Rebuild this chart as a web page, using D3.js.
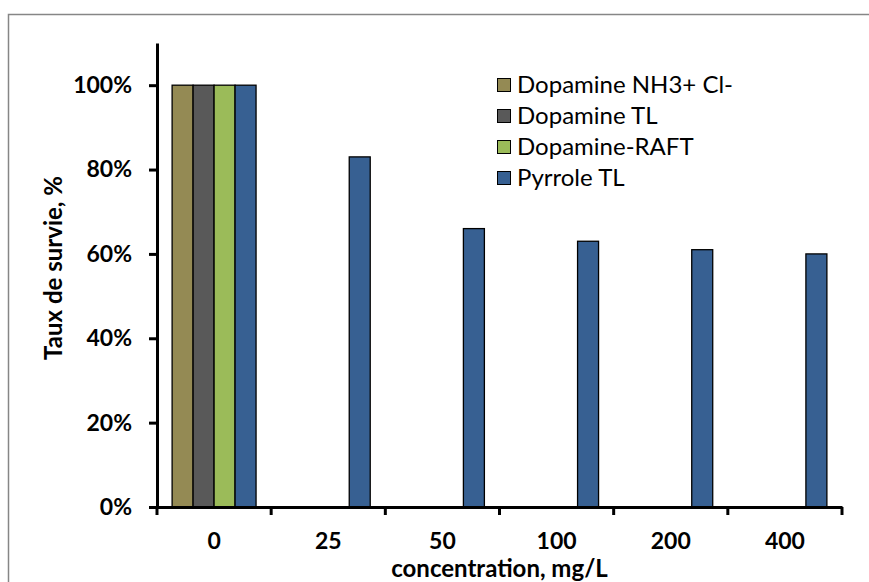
<!DOCTYPE html>
<html>
<head>
<meta charset="utf-8">
<script src="https://cdn.jsdelivr.net/npm/d3@7"></script>
<style>
  html, body { margin: 0; padding: 0; background: #fff; }
  svg { display: block; }
</style>
</head>
<body>
<svg id="chart" width="869" height="582"></svg>
<script>
// Survival rate by concentration for each compound
const categories = ["0", "25", "50", "100", "200", "400"];
const seriesNames = ["Dopamine NH3+ Cl-", "Dopamine TL", "Dopamine-RAFT", "Pyrrole TL"];
const dopamineNH3 = [1.00, null, null, null, null, null];
const dopamineTL = [1.00, null, null, null, null, null];
const dopamineRAFT = [1.00, null, null, null, null, null];
const pyrroleTL = [1.00, 0.83, 0.66, 0.63, 0.61, 0.60];
const yTicks = [0, 0.2, 0.4, 0.6, 0.8, 1.0];
const colors = ["#948A54", "#595959", "#9BBB59", "#376092"];

const seriesValues = [dopamineNH3, dopamineTL, dopamineRAFT, pyrroleTL];

const svg = d3.select("#chart");
const W = 869, H = 582;
const plot = { left: 157, right: 842, top: 43, bottom: 507 };
const FONT = "Lato, sans-serif";

// chart frame
svg.append("rect")
  .attr("x", 8.5).attr("y", 14.5)
  .attr("width", W).attr("height", H)
  .attr("fill", "#fff").attr("stroke", "#868686").attr("stroke-width", 1.5);

const x0 = d3.scaleBand().domain(categories).range([plot.left, plot.right]).padding(0);
const x1 = d3.scaleBand().domain(seriesNames).range([0, x0.bandwidth()])
  .paddingInner(0).paddingOuter(0.72);
const y = d3.scaleLinear().domain([0, 1.1]).range([plot.bottom, plot.top]);

// bars
const g = svg.append("g");
seriesNames.forEach((name, si) => {
  const rows = categories.map((c, i) => ({ c, v: seriesValues[si][i] }))
    .filter(d => d.v != null);
  g.selectAll(null).data(rows).enter().append("rect")
    .attr("x", d => x0(d.c) + x1(name))
    .attr("y", d => y(d.v))
    .attr("width", x1.bandwidth())
    .attr("height", d => y(0) - y(d.v))
    .attr("fill", colors[si])
    .attr("stroke", "#000").attr("stroke-width", 1.3);
});

// y axis
const yAxis = svg.append("g")
  .attr("transform", `translate(${plot.left},0)`)
  .call(d3.axisLeft(y).tickValues(yTicks).tickFormat(d3.format(".0%"))
    .tickSize(8).tickSizeOuter(0).tickPadding(17));
yAxis.select(".domain").attr("stroke", "#000").attr("stroke-width", 3);
yAxis.selectAll(".tick line").attr("stroke", "#000").attr("stroke-width", 3);
yAxis.selectAll(".tick text")
  .attr("font-family", FONT).attr("font-weight", "bold")
  .attr("font-size", 23).attr("fill", "#000");

// x axis: labels under category centres, ticks on category boundaries
const xAxis = svg.append("g")
  .attr("transform", `translate(0,${plot.bottom})`)
  .call(d3.axisBottom(x0).tickSize(0).tickSizeOuter(0).tickPadding(26));
xAxis.select(".domain").attr("stroke", "#000").attr("stroke-width", 3);
xAxis.selectAll(".tick text")
  .attr("font-family", FONT).attr("font-weight", "bold")
  .attr("font-size", 23).attr("fill", "#000");
const bounds = categories.map(c => x0(c)).concat([x0(categories[categories.length - 1]) + x0.bandwidth()]);
xAxis.selectAll(".bound").data(bounds).enter().append("line")
  .attr("class", "bound")
  .attr("x1", d => d).attr("x2", d => d)
  .attr("y1", 0).attr("y2", 8)
  .attr("stroke", "#000").attr("stroke-width", 3);

// axis titles
svg.append("text")
  .attr("transform", `translate(62,${(plot.top + plot.bottom) / 2 - 7}) rotate(-90)`)
  .attr("text-anchor", "middle")
  .attr("font-family", FONT).attr("font-weight", "bold").attr("font-size", 24)
  .text("Taux de survie, %");
svg.append("text")
  .attr("x", (plot.left + plot.right) / 2).attr("y", 577)
  .attr("text-anchor", "middle")
  .attr("font-family", FONT).attr("font-weight", "bold").attr("font-size", 24)
  .text("concentration, mg/L");

// legend
const legend = svg.append("g").attr("transform", "translate(497,78)");
seriesNames.forEach((name, i) => {
  const row = legend.append("g").attr("transform", `translate(0,${i * 31})`);
  row.append("rect").attr("x", 0.5).attr("y", 0.5).attr("width", 13).attr("height", 13)
    .attr("fill", colors[i]).attr("stroke", "#000").attr("stroke-width", 1);
  row.append("text").attr("x", 20).attr("y", 14.5)
    .attr("font-family", FONT).attr("font-size", 24).attr("fill", "#000")
    .text(name);
});
</script>
</body>
</html>
